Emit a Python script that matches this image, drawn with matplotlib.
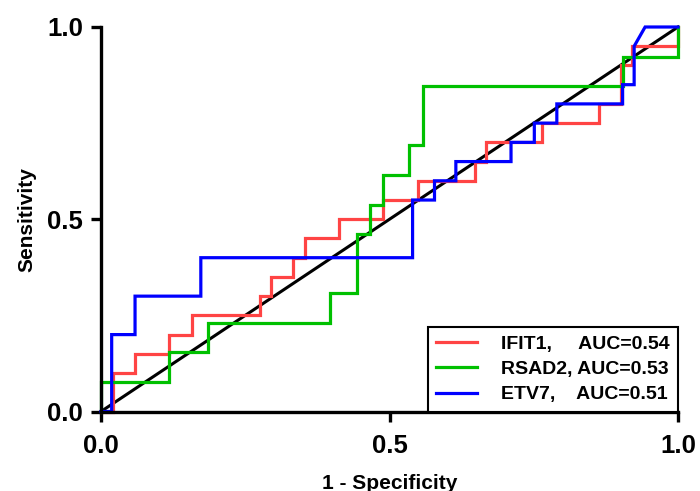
import numpy as np
import matplotlib
matplotlib.use("Agg")
import matplotlib.pyplot as plt

plt.rcParams['font.family'] = ['Liberation Sans', 'DejaVu Sans']
plt.rcParams['font.weight'] = 'bold'

# ROC step curves (1 - specificity, sensitivity)
ifit1_x = [0, 0.02, 0.02, 0.059, 0.059, 0.118, 0.118, 0.157, 0.157, 0.276, 0.276, 0.294, 0.294,
           0.333, 0.333, 0.354, 0.354, 0.4125, 0.4125, 0.489, 0.489, 0.549, 0.549, 0.649, 0.649,
           0.668, 0.668, 0.764, 0.764, 0.863, 0.863, 0.902, 0.902, 0.92, 0.92, 1.0, 1.0]
ifit1_y = [0, 0, 0.1, 0.1, 0.15, 0.15, 0.2, 0.2, 0.25, 0.25, 0.3, 0.3, 0.35,
           0.35, 0.4, 0.4, 0.45, 0.45, 0.5, 0.5, 0.55, 0.55, 0.6, 0.6, 0.65,
           0.65, 0.7, 0.7, 0.75, 0.75, 0.8, 0.8, 0.9, 0.9, 0.95, 0.95, 1.0]

rsad2_x = [0, 0, 0.118, 0.118, 0.186, 0.186, 0.397, 0.397, 0.443, 0.443, 0.466, 0.466,
           0.489, 0.489, 0.534, 0.534, 0.558, 0.558, 0.904, 0.904, 1.0, 1.0]
rsad2_y = [0, 0.077, 0.077, 0.154, 0.154, 0.231, 0.231, 0.308, 0.308, 0.462, 0.462, 0.538,
           0.538, 0.615, 0.615, 0.692, 0.692, 0.846, 0.846, 0.923, 0.923, 1.0]

etv7_x = [0, 0.0185, 0.0185, 0.059, 0.059, 0.173, 0.173, 0.54, 0.54, 0.578, 0.578, 0.615,
          0.615, 0.7106, 0.7106, 0.751, 0.751, 0.79, 0.79, 0.904, 0.904, 0.924, 0.924, 0.943, 1.0]
etv7_y = [0, 0, 0.2, 0.2, 0.3, 0.3, 0.4, 0.4, 0.55, 0.55, 0.6, 0.6,
          0.65, 0.65, 0.7, 0.7, 0.75, 0.75, 0.8, 0.8, 0.85, 0.85, 0.95, 1.0, 1.0]

labels = ['IFIT1,     AUC=0.54', 'RSAD2, AUC=0.53', 'ETV7,    AUC=0.51']
colors = ['#FF4444', '#00C000', '#0000FF']

fig = plt.figure(figsize=(7, 4.91), dpi=100)
ax = fig.add_axes([101 / 700, 79.5 / 491, 577 / 700, 384.5 / 491])

# reference diagonal
ax.plot([0, 1], [0, 1], color='black', lw=2.2, clip_on=False, zorder=2)

for xs, ys, c, lab in zip([ifit1_x, rsad2_x, etv7_x], [ifit1_y, rsad2_y, etv7_y], colors, labels):
    ax.plot(xs, ys, color=c, lw=2.3, label=lab, clip_on=False, zorder=3,
            solid_joinstyle='miter')

ax.set_xlim(0, 1)
ax.set_ylim(0, 1)
ax.set_xticks([0, 0.5, 1.0])
ax.set_yticks([0, 0.5, 1.0])
ax.set_xticklabels(['0.0', '0.5', '1.0'])
ax.set_yticklabels(['0.0', '0.5', '1.0'])

for s in ['top', 'right']:
    ax.spines[s].set_visible(False)
for s in ['left', 'bottom']:
    ax.spines[s].set_linewidth(2.4)
    ax.spines[s].set_zorder(5)

ax.tick_params(axis='both', direction='out', length=7, width=2.4, labelsize=18.5)
ax.tick_params(axis='x', pad=9)
ax.tick_params(axis='y', pad=6)
for t in ax.get_xticklabels() + ax.get_yticklabels():
    t.set_fontweight('bold')

ax.set_xlabel('1 - Specificity', fontsize=15, fontweight='bold', labelpad=12)
ax.set_ylabel('Sensitivity', fontsize=15, fontweight='bold', labelpad=8)

leg = ax.legend(loc='lower right', bbox_to_anchor=(1.0, 0.0), borderaxespad=0,
                fancybox=False, framealpha=1, edgecolor='black',
                prop={'size': 14, 'weight': 'bold'}, handlelength=2.1,
                handletextpad=1.25, borderpad=0.42, labelspacing=0.4)
leg.get_frame().set_linewidth(1.5)
leg.set_zorder(6)

fig.savefig('out.png', dpi=100)
